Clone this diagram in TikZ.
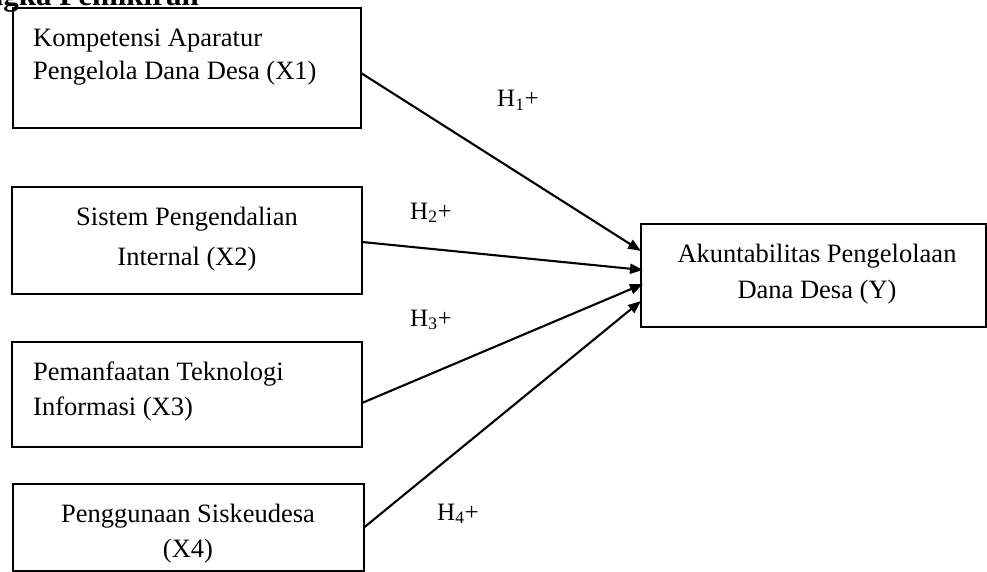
\documentclass[tikz,border=0pt]{standalone}
\usepackage{fontspec}
\setmainfont{Liberation Serif}
\usetikzlibrary{arrows.meta,calc}
\begin{document}
\begin{tikzpicture}[x=1pt,y=-1pt,
 box/.style={draw,line width=1.8pt,inner sep=0,outer sep=0},
 txt/.style={font=\fontsize{26.5}{30}\selectfont,inner sep=0,anchor=base west},
 ctxt/.style={font=\fontsize{26.5}{30}\selectfont,inner sep=0,anchor=base},
 hyp/.style={font=\fontsize{25}{28}\selectfont,inner sep=0,anchor=base west},
 link/.style={line width=2.1pt,-{Triangle[length=13pt,width=10pt]}}]
\useasboundingbox (0,0) rectangle (987,572);
\node[font=\bfseries\fontsize{31}{36}\selectfont,anchor=base east,inner sep=0] (head) at (199,6) {Kerangka Pemikiran};
% boxes
\node[box,minimum width=348pt,minimum height=120pt] (b1) at (187,68) {};
\node[box,minimum width=350pt,minimum height=107pt] (b2) at (187,240.5) {};
\node[box,minimum width=350pt,minimum height=105pt] (b3) at (187,394.5) {};
\node[box,minimum width=351pt,minimum height=87pt] (b4) at (188.5,527.5) {};
\node[box,minimum width=345pt,minimum height=103pt] (y) at (813.5,275.5) {};
% texts
\node[txt] (t1a) at (33,47) {Kompetensi Aparatur};
\node[txt] (t1b) at (33,80) {Pengelola Dana Desa (X1)};
\node[ctxt] (t2a) at (187,225) {Sistem Pengendalian};
\node[ctxt] (t2b) at (187,265) {Internal (X2)};
\node[txt] (t3a) at (33,380) {Pemanfaatan Teknologi};
\node[txt] (t3b) at (33,415) {Informasi (X3)};
\node[ctxt] (t4a) at (188,522) {Penggunaan Siskeudesa};
\node[ctxt] (t4b) at (188,557) {(X4)};
\node[ctxt] (ya) at (817,262) {Akuntabilitas Pengelolaan};
\node[ctxt] (yb) at (817,298) {Dana Desa (Y)};
% arrows
\draw[link] ($(b1.east)+(0,5)$) -- ($(y.west)+(0,-24.5)$);
\draw[link] ($(b2.east)+(0,1.5)$) -- ($(y.west)+(2,-5.5)$);
\draw[link] ($(b3.east)+(0,8.5)$) -- ($(y.west)+(2,8.5)$);
\draw[link] (b4.east) -- ($(y.west)+(0,25.5)$);
% labels
\node[hyp] (h1) at (497,107) {H\textsubscript{1}+};
\node[hyp] (h2) at (410,219) {H\textsubscript{2}+};
\node[hyp] (h3) at (410,326) {H\textsubscript{3}+};
\node[hyp] (h4) at (437,520) {H\textsubscript{4}+};
\end{tikzpicture}
\end{document}
